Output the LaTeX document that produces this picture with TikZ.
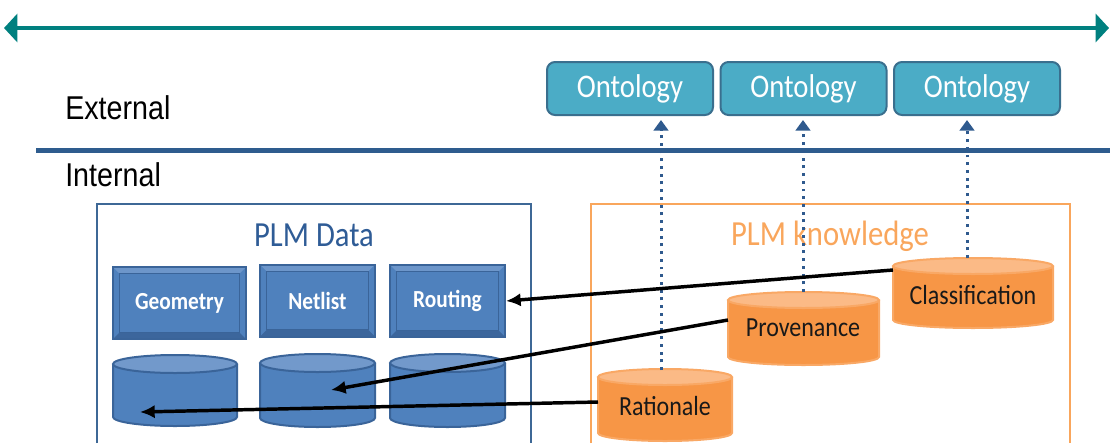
\documentclass[tikz,border=0pt]{standalone}
\usepackage{fontspec}
\setmainfont{Carlito}
\newfontfamily\arialfont{Liberation Sans}
\usetikzlibrary{arrows.meta}
\definecolor{tealA}{HTML}{00807F}
\definecolor{sepblue}{HTML}{2E5C8E}
\definecolor{ontofill}{HTML}{4BACC6}
\definecolor{ontoedge}{HTML}{3A6F8E}
\definecolor{bluefill}{HTML}{4F81BD}
\definecolor{blueedge}{HTML}{3A6499}
\definecolor{bluelight}{HTML}{6D96CA}
\definecolor{bluedark}{HTML}{3C669C}
\definecolor{bluetop}{HTML}{7299CB}
\definecolor{orfill}{HTML}{F79646}
\definecolor{oredge}{HTML}{F9A865}
\definecolor{ortop}{HTML}{FBBA86}
\definecolor{orframe}{HTML}{F9A65C}
\definecolor{dataframe}{HTML}{3E6896}
\definecolor{datatitle}{HTML}{2F5C96}
\definecolor{dotblue}{HTML}{2F5A8E}
\newcommand\vstretch[1]{\scalebox{1}[1.15]{#1}}
\newcommand\drawcyl[8]{%
  \pgfmathsetmacro\cylcx{(#1+#2)/2}%
  \pgfmathsetmacro\cylrx{(#2-#1)/2}%
  \fill[#6] (#1,#3) rectangle (#2,#4);
  \fill[#6] (\cylcx,#4) ellipse[x radius=\cylrx, y radius=#5];
  \draw[#8,line width=1.5pt] (#1,#3) -- (#1,#4) arc[start angle=180,end angle=0,x radius=\cylrx,y radius=#5] -- (#2,#3);
  \filldraw[fill=#7,draw=#8,line width=1.5pt] (\cylcx,#3) ellipse[x radius=\cylrx,y radius=#5];
}
\tikzset{
  onto/.style={draw=ontoedge,fill=ontofill,line width=1.5pt,rounded corners=6pt,
    minimum width=124.5pt,minimum height=39.75pt,inner sep=0pt,text=white,
    font=\fontsize{21.5}{24}\selectfont},
  bevel/.style={draw=blueedge,fill=bluefill,line width=1.5pt,inner sep=0pt,
    minimum height=54pt,text=white,font=\bfseries\fontsize{16}{18}\selectfont,
    path picture={
      \fill[bluelight] (path picture bounding box.north west) -- (path picture bounding box.north east)
        -- ([xshift=-5pt,yshift=-5pt]path picture bounding box.north east)
        -- ([xshift=5pt,yshift=-5pt]path picture bounding box.north west) -- cycle;
      \fill[bluedark] (path picture bounding box.south west) -- (path picture bounding box.south east)
        -- ([xshift=-5pt,yshift=5pt]path picture bounding box.south east)
        -- ([xshift=5pt,yshift=5pt]path picture bounding box.south west) -- cycle;
      \draw[blueedge,line width=0.8pt] ([xshift=5pt,yshift=-5pt]path picture bounding box.north west)
        rectangle ([xshift=-5pt,yshift=5pt]path picture bounding box.south east);
    }},
  cyltext/.style={inner sep=0pt,text=black!90,font=\fontsize{18}{20}\selectfont},
  title/.style={inner sep=0pt,font=\fontsize{23}{26}\selectfont},
  side/.style={inner sep=0pt,anchor=base west,font=\arialfont\fontsize{21.5}{24}\selectfont},
  link/.style={line width=2.6pt,-{Latex[length=11pt,width=10pt]}},
  dotlink/.style={dotblue,line width=2.25pt,dash pattern=on 2.2pt off 3.6pt,
    -{Triangle[length=8pt,width=11pt]}},
}
\begin{document}
\begin{tikzpicture}[x=0.75pt,y=-0.75pt]
\useasboundingbox (0,0) rectangle (1110,443);

% top double arrow
\coordinate (topL) at (4,28);
\coordinate (topR) at (1109,28);
\draw[tealA,line width=2.4pt,{Triangle[length=10pt,width=21pt]}-{Triangle[length=10pt,width=21pt]}] (topL) -- (topR);

% separator
\coordinate (sepL) at (36,150);
\coordinate (sepR) at (1110,150);
\draw[sepblue,line width=3.75pt] (sepL) -- (sepR);

\node[side] (ext) at (65,119) {\vstretch{External}};
\node[side] (int) at (65,186) {\vstretch{Internal}};

% ontologies
\node[onto] (onto1) at (630,88.5) {\vstretch{Ontology}};
\node[onto] (onto2) at (803.5,88.5) {\vstretch{Ontology}};
\node[onto] (onto3) at (977,88.5) {\vstretch{Ontology}};

% frames
\draw[dataframe,line width=1.8pt] (97,443) -- (97,204) -- (531,204) -- (531,443);
\draw[orframe,line width=1.8pt] (591,443) -- (591,204) -- (1070,204) -- (1070,443);
\node[title,text=datatitle] (dtitle) at (314,235) {\vstretch{PLM Data}};
\node[title,text=orframe] (ktitle) at (830,236) {\vstretch{PLM knowledge}};

% blue boxes
\node[bevel,minimum width=99.75pt] (geo) at (179.5,303) {\vstretch{Geometry}};
\node[bevel,minimum width=86.25pt] (net) at (317.5,300.5) {\vstretch{Netlist}};
\node[bevel,minimum width=86.25pt] (rout) at (447.5,301) {\vstretch{Routing}};

% blue cylinders
\drawcyl{113}{237}{364}{417}{9}{bluefill}{bluetop}{blueedge}
\drawcyl{260}{375}{363}{418}{9}{bluefill}{bluetop}{blueedge}
\drawcyl{390}{505}{363}{418}{9}{bluefill}{bluetop}{blueedge}
\coordinate (db1) at (140,412);
\coordinate (db2) at (331,390);

% orange cylinders
\drawcyl{893}{1053}{266}{320}{8}{orfill}{ortop}{oredge}
\drawcyl{728}{879}{300}{357}{8}{orfill}{ortop}{oredge}
\drawcyl{598}{732}{377}{433}{8}{orfill}{ortop}{oredge}
\node[cyltext] (cls) at (973,295) {\vstretch{Classification}};
\node[cyltext] (prov) at (803,328) {\vstretch{Provenance}};
\node[cyltext] (rat) at (665,406) {\vstretch{Rationale}};

% dotted links
\coordinate (ratTop) at (661,370);
\coordinate (provTop) at (803,292);
\coordinate (clsTop) at (967,258);
\draw[dotlink,shorten >=3pt] (ratTop) -- (ratTop |- onto1.south);
\draw[dotlink,shorten >=3pt] (provTop) -- (provTop |- onto2.south);
\draw[dotlink,shorten >=3pt] (clsTop) -- (clsTop |- onto3.south);

% black links
\coordinate (clsL) at (893,270);
\coordinate (provL) at (728,320);
\coordinate (ratL) at (598,402);
\draw[link] (clsL) -- (rout.east);
\draw[link] (provL) -- (db2);
\draw[link] (ratL) -- (db1);
\end{tikzpicture}
\end{document}
